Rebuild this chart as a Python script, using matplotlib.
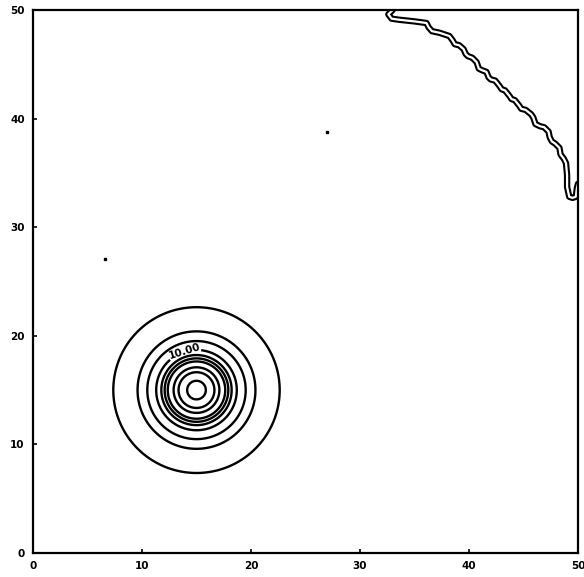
import numpy as np
import matplotlib
matplotlib.use("Agg")
import matplotlib.pyplot as plt

# --- data -------------------------------------------------------------
source_x = 15.0
source_y = 15.0
peak = 41.0
spread = 2.2
levels = [0.1, 2, 5, 10, 14, 17, 20, 26, 31, 38]
label_level = 10
label_text = "10.00"
label_pos = (13.9, 18.55)

coast_x = [33.0, 32.6, 32.9, 33.6, 35.0, 36.1, 36.3, 36.6, 37.3, 37.9, 38.2,
           38.5, 38.7, 39.1, 39.5, 39.7, 39.9, 40.3, 40.7, 40.9, 41.2, 41.6,
           41.8, 42.0, 42.4, 42.8, 43.0, 43.3, 43.7, 43.9, 44.2, 44.6, 44.8,
           45.2, 45.7, 45.9, 46.1, 46.5, 46.9, 47.3, 47.4, 47.6, 47.9, 48.3,
           48.4, 48.7, 48.9, 49.0, 49.0, 49.2, 49.5, 49.8, 49.9, 50.0]
coast_y = [50.0, 49.6, 49.2, 49.1, 48.95, 48.8, 48.4, 48.05, 47.9, 47.7, 47.6,
           47.2, 46.85, 46.75, 46.4, 45.95, 45.75, 45.6, 45.2, 44.6, 44.45,
           44.3, 43.8, 43.6, 43.5, 43.0, 42.7, 42.6, 42.1, 41.8, 41.7, 41.2,
           40.9, 40.8, 40.4, 40.1, 39.5, 39.3, 39.2, 38.8, 38.3, 37.9, 37.7,
           37.3, 36.7, 36.3, 35.9, 34.8, 33.7, 32.8, 32.7, 32.8, 33.6, 34.0]

dots_x = [6.6, 27.0]
dots_y = [27.1, 38.8]

ticks = [0, 10, 20, 30, 40, 50]

# --- figure -----------------------------------------------------------
fig = plt.figure(figsize=(5.84, 5.77), dpi=100)
ax = fig.add_axes([0.0565, 0.0416, 0.9332, 0.9411])

gx = np.linspace(0, 50, 501)
gy = np.linspace(0, 50, 501)
X, Y = np.meshgrid(gx, gy)
C = peak * np.exp(-((X - source_x) ** 2 + (Y - source_y) ** 2) / (2 * spread ** 2))

other_levels = [lv for lv in levels if lv != label_level]
ax.contour(X, Y, C, levels=other_levels, colors="black", linewidths=1.7)
cs10 = ax.contour(X, Y, C, levels=[float(label_level)], colors="black", linewidths=1.7)
ax.clabel(cs10, fmt={float(label_level): label_text}, manual=[label_pos],
          inline=True, inline_spacing=2, fontsize=7.5, colors="black")
for t in cs10.labelTexts:
    t.set_fontweight("bold")

ax.plot(coast_x, coast_y, color="black", lw=4.6, solid_capstyle="round",
        solid_joinstyle="round", clip_on=True)
ax.plot(coast_x, coast_y, color="white", lw=1.6, solid_capstyle="round",
        solid_joinstyle="round", clip_on=True)

ax.plot(dots_x, dots_y, "s", color="black", ms=2)

ax.set_xlim(0, 50)
ax.set_ylim(0, 50)
ax.set_xticks(ticks)
ax.set_yticks(ticks)
ax.set_xticklabels([str(t) for t in ticks], fontsize=7.5, fontweight="heavy")
ax.set_yticklabels([str(t) for t in ticks], fontsize=7.5, fontweight="heavy")
ax.tick_params(direction="in", length=3, width=1.2, pad=6)
for s in ax.spines.values():
    s.set_linewidth(1.6)

fig.savefig("out.png", dpi=100)
